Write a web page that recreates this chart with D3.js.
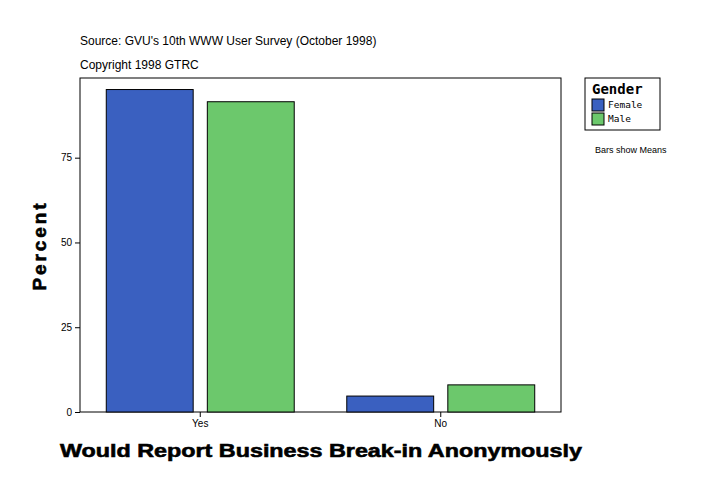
<!DOCTYPE html><html><head><meta charset="utf-8"><script src="https://cdn.jsdelivr.net/npm/d3@7"></script>
<style>body{margin:0;background:#fff}</style></head><body><svg id="c" width="724" height="496"></svg>
<script>
const categories=["Yes","No"];
const seriesNames=["Female","Male"];
const female=[95.1,4.7];
const male=[91.5,8.0];
const yTicks=[0,25,50,75];
const colors=["#3a60c0","#6cc86c"];
const svg=d3.select("#c");
const L=80,R=561,T=78,B=412;
svg.append("rect").attr("x",0).attr("y",0).attr("width",724).attr("height",496).attr("fill","#fff");
const y=d3.scaleLinear().domain([0,98.5]).range([B,T]);
const x=d3.scaleBand().domain(categories).range([L,R]).paddingInner(0.0).paddingOuter(0.0);
const xs=d3.scaleBand().domain(seriesNames).range([0,x.bandwidth()]).paddingInner(0.14).paddingOuter(0.26);
svg.append("rect").attr("x",L).attr("y",T).attr("width",R-L).attr("height",B-T).attr("fill","none").attr("stroke","#000");
const data=[female,male];
seriesNames.forEach((s,si)=>{
 categories.forEach((c,ci)=>{
  svg.append("rect").attr("x",x(c)+xs(s)).attr("y",y(data[si][ci])).attr("width",xs.bandwidth()).attr("height",B-y(data[si][ci])).attr("fill",colors[si]).attr("stroke","#000");
 });
});
const ya=svg.append("g").attr("transform",`translate(${L},0)`).call(d3.axisLeft(y).tickValues(yTicks).tickSize(5).tickSizeOuter(0));
const xa=svg.append("g").attr("transform",`translate(0,${B})`).call(d3.axisBottom(x).tickSize(5).tickSizeOuter(0));
[ya,xa].forEach(a=>{a.select(".domain").remove();a.selectAll("text").attr("font-family","Arial, Liberation Sans").attr("font-size",10).attr("fill","#000");});
svg.append("text").attr("transform","translate(46,247) rotate(-90)").attr("text-anchor","middle").attr("font-family","Arial, Liberation Sans").attr("font-weight","bold").attr("font-size",19).attr("textLength",87).attr("lengthAdjust","spacing").attr("stroke","#000").attr("stroke-width",0.6).text("Percent");
svg.append("text").attr("x",60).attr("y",457).attr("font-family","Arial, Liberation Sans").attr("font-weight","bold").attr("font-size",19).attr("textLength",522).attr("lengthAdjust","spacingAndGlyphs").attr("stroke","#000").attr("stroke-width",0.6).text("Would Report Business Break-in Anonymously");
svg.append("text").attr("x",80).attr("y",45).attr("font-family","Arial, Liberation Sans").attr("font-size",12).text("Source: GVU's 10th WWW User Survey (October 1998)");
svg.append("text").attr("x",80).attr("y",69).attr("font-family","Arial, Liberation Sans").attr("font-size",12).text("Copyright 1998 GTRC");
const lg=svg.append("g");
lg.append("rect").attr("x",585).attr("y",78).attr("width",75).attr("height",52).attr("fill","#fff").attr("stroke","#000");
lg.append("text").attr("x",592).attr("y",94).attr("font-family","DejaVu Sans Mono, monospace").attr("font-weight","bold").attr("font-size",14).text("Gender");
seriesNames.forEach((s,i)=>{
 lg.append("rect").attr("x",592).attr("y",99+i*14).attr("width",12).attr("height",12).attr("fill",colors[i]).attr("stroke","#000");
 lg.append("text").attr("x",608).attr("y",108+i*14).attr("font-family","DejaVu Sans Mono, monospace").attr("font-size",9.5).text(s);
});
svg.append("text").attr("x",595).attr("y",153).attr("font-family","Arial, Liberation Sans").attr("font-size",9).text("Bars show Means");
</script></body></html>
